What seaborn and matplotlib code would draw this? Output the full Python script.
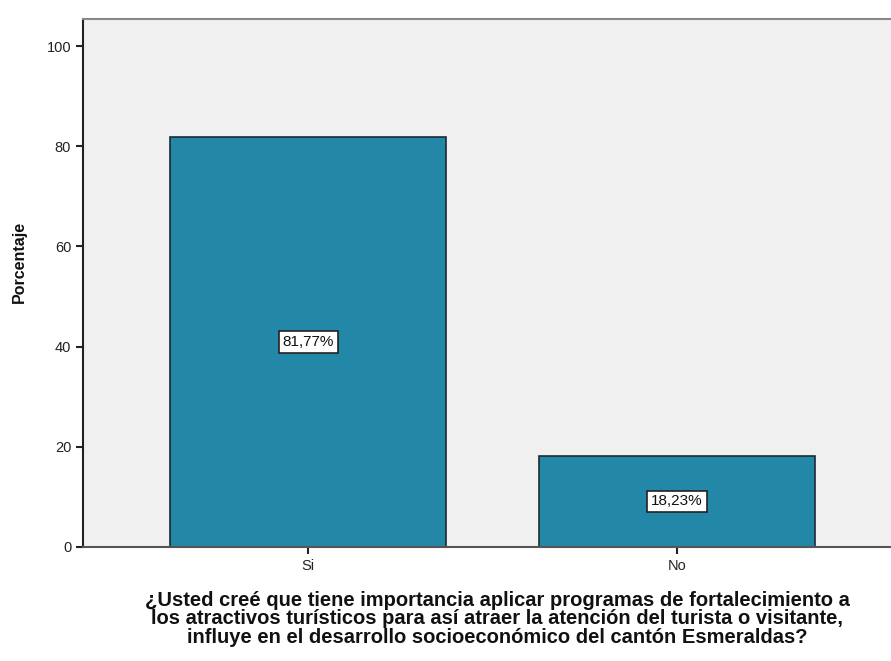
import matplotlib
matplotlib.use("Agg")
import matplotlib.pyplot as plt
import pandas as pd
import seaborn as sns

# Data
respuestas = ["Si", "No"]
porcentajes = [81.77, 18.23]
etiquetas = ["81,77%", "18,23%"]
y_ticks = [0, 20, 40, 60, 80, 100]

pregunta = ("¿Usted creé que tiene importancia aplicar programas de fortalecimiento a\n"
            "los atractivos turísticos para así atraer la atención del turista o visitante,\n"
            "influye en el desarrollo socioeconómico del cantón Esmeraldas?")

df = pd.DataFrame({"Respuesta": respuestas, "Porcentaje": porcentajes})

sns.set_style("ticks")
plt.rcParams["font.family"] = ["Liberation Sans", "DejaVu Sans"]

fig = plt.figure(figsize=(8.91, 6.61), dpi=100)
ax = fig.add_axes([83 / 891, 114 / 661, 1 - 83 / 891, 528 / 661])
ax.set_facecolor("#f0f0f0")

sns.barplot(data=df, x="Respuesta", y="Porcentaje", order=respuestas,
            color="#2387a8", saturation=1, width=0.75,
            edgecolor="#1e2a30", linewidth=1.2, ax=ax)

# value labels in white boxes at half bar height
for i, (val, txt) in enumerate(zip(porcentajes, etiquetas)):
    ax.text(i, val / 2, txt, ha="center", va="center", fontsize=11, color="#111111",
            bbox=dict(boxstyle="square,pad=0.25", facecolor="white",
                      edgecolor="#222222", linewidth=1.2))

ax.set_xlim(-0.61, 1.58)
ax.set_ylim(0, 105.4)
ax.set_yticks(y_ticks)
ax.tick_params(axis="both", labelsize=10.5, length=5, width=1.5, colors="#222222",
               labelcolor="#222222")
ax.spines["left"].set_color("#222222")
ax.spines["left"].set_linewidth(1.5)
ax.spines["bottom"].set_color("#555555")
ax.spines["bottom"].set_linewidth(1.5)
ax.spines["top"].set_color("#888888")
ax.spines["top"].set_linewidth(1.5)
ax.spines["right"].set_visible(False)

ax.set_xlabel("")
ax.set_ylabel("Porcentaje", fontsize=11.5, fontweight="bold", color="#111111")
ax.yaxis.set_label_coords(-0.07, 0.54)

fig.text(497 / 891, 1 - 619 / 661, pregunta, ha="center", va="center",
         fontsize=14.5, fontweight="bold", linespacing=0.98, color="#111111")

fig.savefig("out.png", dpi=100)
